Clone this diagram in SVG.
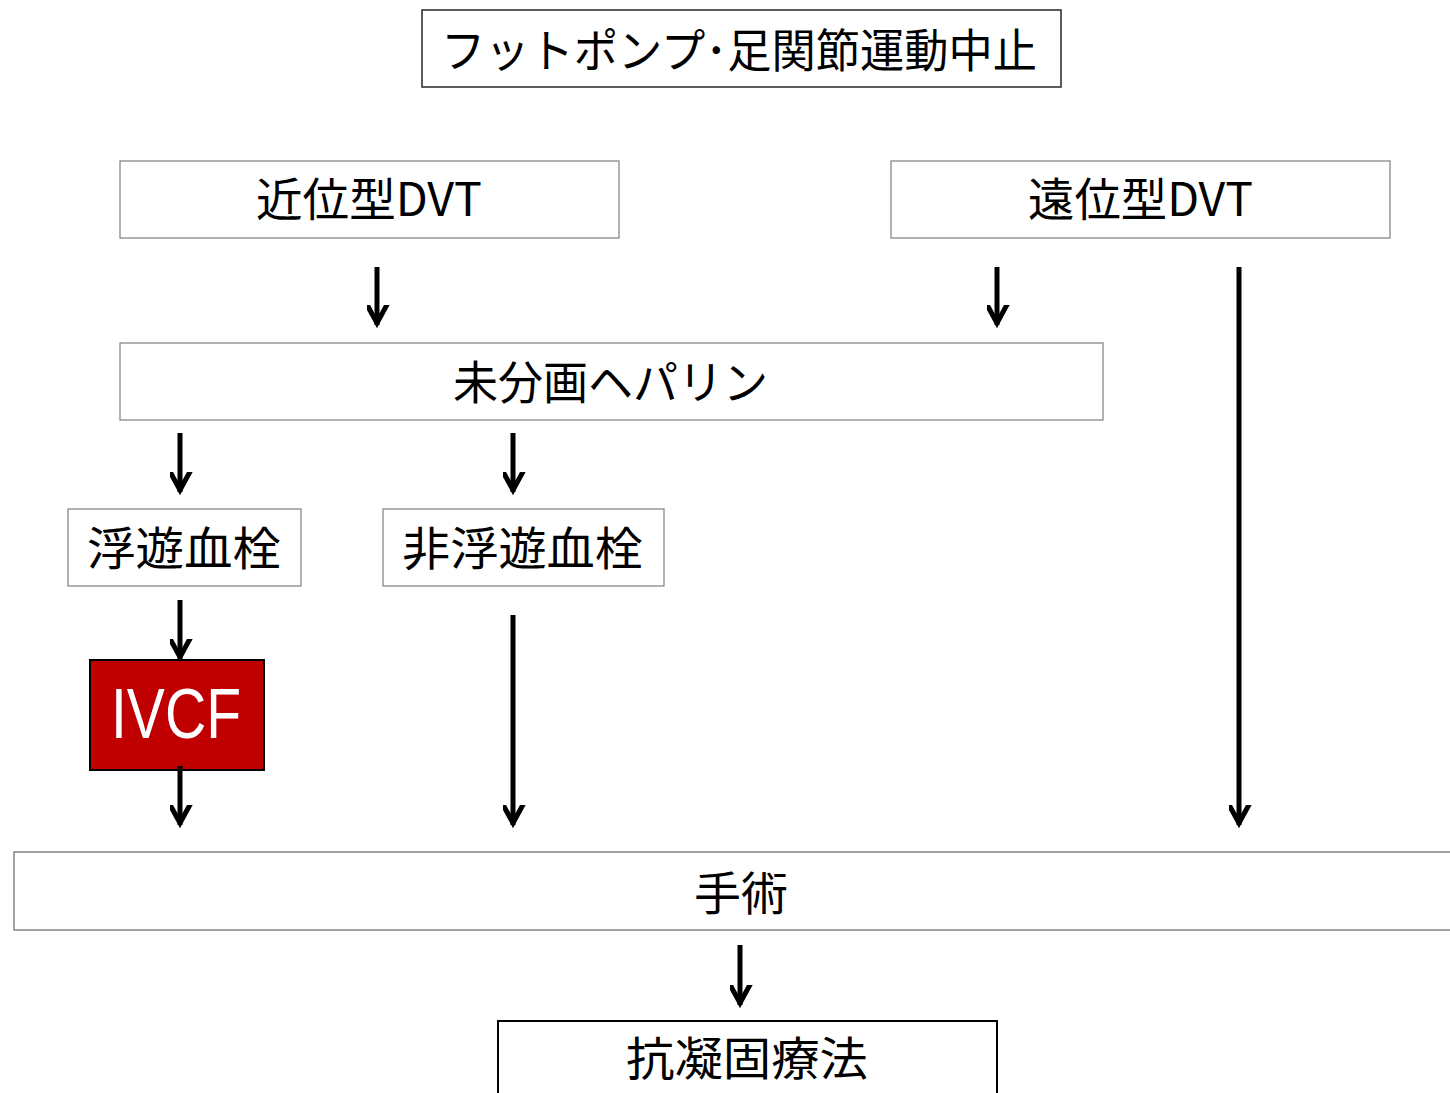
<svg xmlns="http://www.w3.org/2000/svg" width="1450" height="1093" viewBox="0 0 1450 1093">
<style>
.box{fill:#fff;stroke:#7f7f7f;stroke-width:1.2}
.t{font-family:"Noto Sans CJK JP","Noto Sans",sans-serif;font-size:46px;fill:#000;text-anchor:middle}
.c{stroke:#000;stroke-width:5;fill:none}
</style>
<defs>
<marker id="ah" markerUnits="userSpaceOnUse" markerWidth="40" markerHeight="40" viewBox="-20 -30 40 40" refX="0" refY="0" orient="auto-start-reverse">
<path d="M-12,-24 L0,-2 L12,-24" fill="none" stroke="#000" stroke-width="5" stroke-linejoin="miter" transform="rotate(-90)"/>
</marker>
</defs>
<g id="n-top"><rect class="box" x="422" y="10" width="639" height="77" style="stroke:#333;stroke-width:1.6"/><text class="t" x="739" y="67" font-size="48" textLength="596" lengthAdjust="spacingAndGlyphs">フットポンプ･足関節運動中止</text></g>
<g id="n-prox"><rect class="box" x="120" y="161" width="499" height="77"/><text class="t" x="369" y="216" textLength="226" lengthAdjust="spacingAndGlyphs">近位型DVT</text></g>
<g id="n-dist"><rect class="box" x="891" y="161" width="499" height="77"/><text class="t" x="1140.5" y="216" textLength="225" lengthAdjust="spacingAndGlyphs">遠位型DVT</text></g>
<g id="n-hep"><rect class="box" x="120" y="343" width="983" height="77"/><text class="t" x="610.5" y="399" textLength="315" lengthAdjust="spacingAndGlyphs">未分画ヘパリン</text></g>
<g id="n-float"><rect class="box" x="68" y="509" width="233" height="77"/><text class="t" x="184" y="565" textLength="194" lengthAdjust="spacingAndGlyphs">浮遊血栓</text></g>
<g id="n-nonfloat"><rect class="box" x="383" y="509" width="281" height="77"/><text class="t" x="522.5" y="565" textLength="241" lengthAdjust="spacingAndGlyphs">非浮遊血栓</text></g>
<g id="n-ivcf"><rect x="90" y="660" width="174" height="110" fill="#c00000" stroke="#000" stroke-width="2"/><text x="176" y="738" font-family="Liberation Sans, Arial, sans-serif" font-size="70" fill="#fff" text-anchor="middle" textLength="130" lengthAdjust="spacingAndGlyphs">IVCF</text></g>
<g id="n-surg"><rect class="box" x="14" y="852" width="1450" height="78" style="stroke:#666"/><text class="t" x="741" y="910" textLength="94" lengthAdjust="spacingAndGlyphs">手術</text></g>
<g id="n-anti"><rect class="box" x="498" y="1021" width="499" height="90" style="stroke:#000;stroke-width:2"/><text class="t" x="747" y="1075" textLength="242" lengthAdjust="spacingAndGlyphs">抗凝固療法</text></g>
<g id="connectors">
<line class="c" x1="377" y1="267" x2="377" y2="325" marker-end="url(#ah)"/>
<line class="c" x1="997" y1="267" x2="997" y2="325" marker-end="url(#ah)"/>
<line class="c" x1="1239" y1="267" x2="1239" y2="825" marker-end="url(#ah)"/>
<line class="c" x1="180" y1="433" x2="180" y2="492" marker-end="url(#ah)"/>
<line class="c" x1="513" y1="433" x2="513" y2="492" marker-end="url(#ah)"/>
<line class="c" x1="180" y1="600" x2="180" y2="659" marker-end="url(#ah)"/>
<line class="c" x1="180" y1="766" x2="180" y2="825" marker-end="url(#ah)"/>
<line class="c" x1="513" y1="615" x2="513" y2="825" marker-end="url(#ah)"/>
<line class="c" x1="740" y1="945" x2="740" y2="1005" marker-end="url(#ah)"/>
</g>
</svg>
